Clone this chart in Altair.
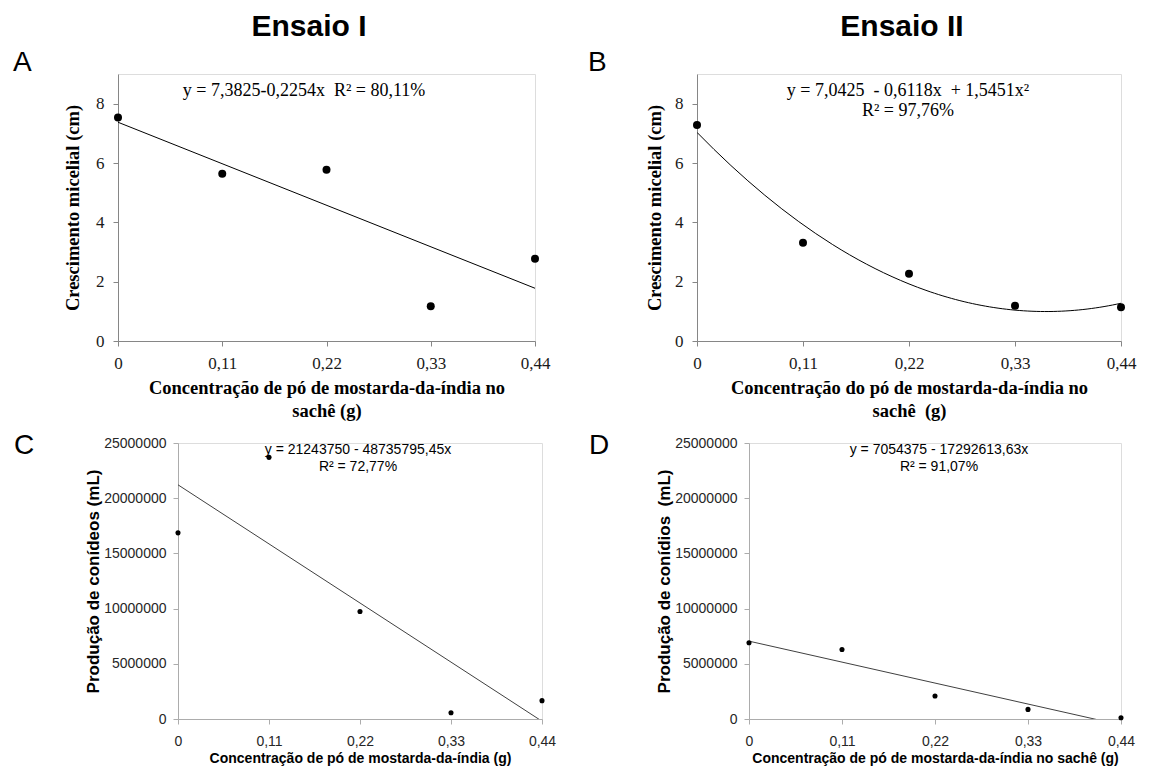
import altair as alt
import pandas as pd

# ---------------- data ----------------
conc = [0, 0.11, 0.22, 0.33, 0.44]
x_ticks = [0, 0.11, 0.22, 0.33, 0.44]
micelial_ensaio1 = [7.53, 5.64, 5.77, 1.17, 2.77]
micelial_ensaio2 = [7.28, 3.31, 2.27, 1.19, 1.14]
conidios_ensaio1 = [16860000, 23700000, 9740000, 570000, 1660000]
conidios_ensaio2 = [6900000, 6300000, 2080000, 870000, 120000]
y_ticks_cm = [0, 2, 4, 6, 8]
y_ticks_ml = [0, 5000000, 10000000, 15000000, 20000000, 25000000]

headers = ["Ensaio I", "Ensaio II"]
letters = ["A", "B", "C", "D"]
eq_A = ["y = 7,3825-0,2254x\u00a0\u00a0R² = 80,11%"]
eq_B = ["y = 7,0425\u00a0\u00a0- 0,6118x\u00a0\u00a0+ 1,5451x²", "R² = 97,76%"]
eq_C = ["y = 21243750 - 48735795,45x", "R² = 72,77%"]
eq_D = ["y = 7054375 - 17292613,63x", "R² = 91,07%"]
xtitle_A = ["Concentração de pó de mostarda-da-índia no", "sachê (g)"]
xtitle_B = ["Concentração do pó de mostarda-da-índia no", "sachê\u00a0\u00a0(g)"]
xtitle_C = "Concentração de pó de mostarda-da-índia (g)"
xtitle_D = "Concentração de pó de mostarda-da-índia no sachê (g)"
ytitle_AB = "Crescimento micelial (cm)"
ytitle_C = "Produção de conídeos (mL)"
ytitle_D = "Produção de conídios\u00a0\u00a0(mL)"

SERIF = "Liberation Serif"
SANS = "Liberation Sans"
LABEL_EXPR = "replace(format(datum.value, '.2~f'), '.', ',')"


def text_layer(txt, x, y, font, size, weight="normal", align="center"):
    return alt.Chart(pd.DataFrame({"t": [txt]})).mark_text(
        font=font, fontSize=size, fontWeight=weight, align=align,
        baseline="alphabetic", color="black"
    ).encode(text="t:N", x=alt.value(x), y=alt.value(y))


def panel(yvals, width, height, ydomain, yticks, serif, xtitle, ytitle,
          ytitle_x, method, psize, lcolor, texts):
    font = SERIF if serif else SANS
    lsize = 17 if serif else 14
    axcol = "#868686" if serif else "#acacac"
    lcol = "#1a1a1a" if serif else "#262626"
    df = pd.DataFrame({"conc": conc, "y": yvals})
    xaxis = alt.Axis(
        values=x_ticks, labelExpr=LABEL_EXPR, title=xtitle, grid=False,
        labelFlush=False, labelOverlap=False, domainColor=axcol, tickColor=axcol,
        tickSize=5, labelFont=font, labelFontSize=lsize, labelColor=lcol,
        labelPadding=9 if serif else 10,
        titleFont=font, titleFontSize=18.5 if serif else 14, titleFontWeight="bold",
        titleColor="black", titleLineHeight=23, titleY=37 if serif else 32,
        titleBaseline="top",
    )
    yaxis = alt.Axis(
        values=yticks, format="d", title=ytitle, grid=False, labelOverlap=False,
        domainColor=axcol, tickColor=axcol, tickSize=5, labelFont=font,
        labelFontSize=lsize, labelColor=lcol,
        labelPadding=9 if serif else 7, titleFont=font,
        titleFontSize=18.5 if serif else 17, titleFontWeight="bold",
        titleColor="black", titleX=ytitle_x, titleY=height / 2,
        titleBaseline="middle",
    )
    base = alt.Chart(df)
    pts = base.mark_circle(color="black", opacity=1, size=psize).encode(
        x=alt.X("conc:Q", scale=alt.Scale(domain=[0, 0.44], nice=False, zero=False), axis=xaxis),
        y=alt.Y("y:Q", scale=alt.Scale(domain=ydomain, nice=False), axis=yaxis),
    )
    if method == "poly":
        fit = base.transform_regression("conc", "y", method="poly", order=2, extent=[0, 0.44])
    else:
        fit = base.transform_regression("conc", "y", method="linear", extent=[0, 0.44])
    line = fit.mark_line(color=lcolor, strokeWidth=1, clip=True).encode(x="conc:Q", y="y:Q")
    return alt.layer(line, pts, *texts).properties(width=width, height=height)


def spacer(w):
    return alt.Chart(pd.DataFrame({"t": [""]})).mark_text(opacity=0).encode(
        text="t:N", x=alt.value(0), y=alt.value(0)
    ).properties(
        width=w, height=1,
        view=alt.ViewBackground(stroke="transparent", strokeOpacity=0, fill="transparent"),
    )


A = panel(micelial_ensaio1, 417, 267, [0, 9], y_ticks_cm, True, xtitle_A, ytitle_AB, -46,
          "linear", 64, "black",
          [text_layer(headers[0], 191, -38, SANS, 30, "bold"),
           text_layer(letters[0], -105, -3, SANS, 28, align="left"),
           text_layer(eq_A[0], 186, 22, SERIF, 18)])
B = panel(micelial_ensaio2, 424, 267, [0, 9], y_ticks_cm, True, xtitle_B, ytitle_AB, -43,
          "poly", 64, "black",
          [text_layer(headers[1], 205, -38, SANS, 30, "bold"),
           text_layer(letters[1], -109, -3, SANS, 28, align="left"),
           text_layer(eq_B[0], 211, 22, SERIF, 18),
           text_layer(eq_B[1], 211, 42, SERIF, 18)])
C = panel(conidios_ensaio1, 364, 276, [0, 25000000], y_ticks_ml, False, xtitle_C, ytitle_C, -85,
          "linear", 26, "#404040",
          [text_layer(letters[2], -164, 11, SANS, 28, align="left"),
           text_layer(eq_C[0], 180, 11, SANS, 14),
           text_layer(eq_C[1], 180, 28, SANS, 14)])
D = panel(conidios_ensaio2, 372, 276, [0, 25000000], y_ticks_ml, False, xtitle_D, ytitle_D, -85,
          "linear", 26, "#404040",
          [text_layer(letters[3], -160, 11, SANS, 28, align="left"),
           text_layer(eq_D[0], 190, 11, SANS, 14),
           text_layer(eq_D[1], 190, 28, SANS, 14)])

row1 = alt.hconcat(A, B, spacing=162, bounds="flush")
row2 = alt.hconcat(spacer(30), C, spacer(147), D, spacing=30, bounds="flush")
chart = alt.vconcat(row1, row2, spacing=11).properties(
    padding={"left": 4, "top": 3, "right": 4, "bottom": 0}
).configure_view(stroke="transparent", strokeWidth=0).configure(background="white")

chart.save("out.html", embed_options={"renderer": "svg", "actions": False})
